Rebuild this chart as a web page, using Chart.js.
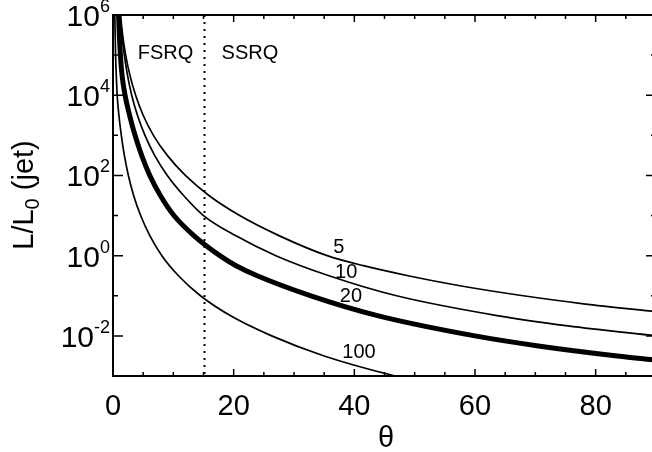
<!DOCTYPE html>
<html>
<head>
<meta charset="utf-8">
<script src="https://cdn.jsdelivr.net/npm/chart.js@4.4.1/dist/chart.umd.min.js"></script>
<style>
html,body{margin:0;padding:0;overflow:hidden;background:#fff;width:652px;height:452px}
#wrap{width:660px;height:452px}
canvas{display:block}
</style>
</head>
<body>
<div id="wrap"><canvas id="c" width="660" height="452"></canvas></div>
<script>
// Points: viewing angle theta (deg) where each curve reaches the given log10(L/L0)
const thetaG5   = [1.0, 1.25, 1.6, 2.1, 2.8, 3.75, 5.0, 6.7, 9.0, 12.0, 15.9, 21.0, 27.5, 35.5, 41.5, 48.9, 57.5, 68.0, 78.0, 90];
const logLG5    = [6.5, 6, 5.5, 5, 4.5, 4, 3.5, 3, 2.5, 2, 1.5, 1, 0.5, 0, -0.25, -0.5, -0.75, -1, -1.2, -1.4];

const thetaG10  = [0.95, 1.18, 1.48, 1.88, 2.4, 3.1, 4.05, 5.3, 6.9, 9.0, 11.7, 15.0, 20.3, 27.0, 35.8, 47.0, 63.9, 75.4, 90];
const logLG10   = [6.5, 6, 5.5, 5, 4.5, 4, 3.5, 3, 2.5, 2, 1.5, 1, 0.5, 0, -0.5, -1, -1.5, -1.75, -2];

const thetaG20  = [0.8, 0.92, 1.05, 1.23, 1.5, 2.0, 2.75, 3.65, 4.75, 6.1, 7.85, 10.1, 13.4, 17.7, 20.4, 23.9, 32.8, 44.0, 60.0, 70.5, 83.6, 90];
const logLG20   = [6.5, 6, 5.5, 5, 4.5, 4, 3.5, 3, 2.5, 2, 1.5, 1, 0.5, 0, -0.25, -0.5, -1, -1.5, -2, -2.25, -2.5, -2.6];

const thetaG100 = [0.25, 0.3, 0.36, 0.43, 0.545, 0.69, 0.98, 1.38, 1.88, 2.55, 3.42, 4.58, 6.1, 8.1, 10.85, 14.5, 19.5, 26.3, 35.0, 46.8, 53.0];
const logLG100  = [6.5, 6, 5.5, 5, 4.5, 4, 3.5, 3, 2.5, 2, 1.5, 1, 0.5, 0, -0.5, -1, -1.5, -2, -2.5, -3, -3.2];

const curveLabels = ['5', '10', '20', '100'];
const curveLabelTheta = [36.5, 36.8, 37.6, 38.0];
const curveLabelLog   = [0.06, -0.56, -1.16, -2.55];

const xMajorTicks = [0, 20, 40, 60, 80];
const xMinorStep = 5;
const yMajorExps = [6, 4, 2, 0, -2];
const yMinorExps = [5, 3, 1, -1];
const boundaryTheta = 15;
const regionLabels = ['FSRQ', 'SSRQ'];
const regionLabelTheta = [4.1, 18.0];
const regionLabelLog = 4.9;

function toPoints(th, logs) {
  return th.map((t, i) => ({x: t, y: Math.pow(10, logs[i])}));
}

const FONT = '"Liberation Sans", Arial, Helvetica, sans-serif';

const deco = {
  id: 'deco',
  beforeDatasetsDraw(chart) {
    const {ctx, chartArea: a, scales: {x}} = chart;
    const px = Math.round(x.getPixelForValue(boundaryTheta)) + 0.5;
    ctx.save();
    ctx.strokeStyle = '#000';
    ctx.lineWidth = 2;
    ctx.setLineDash([2, 5]);
    ctx.beginPath(); ctx.moveTo(px, a.top); ctx.lineTo(px, a.bottom); ctx.stroke();
    ctx.restore();
  },
  afterDatasetsDraw(chart) {
    const {ctx, chartArea: a, scales: {x, y}} = chart;
    ctx.save();
    ctx.strokeStyle = '#000';
    ctx.fillStyle = '#000';
    ctx.lineWidth = 2;
    ctx.strokeRect(a.left, a.top, a.right - a.left, a.bottom - a.top);
    ctx.lineWidth = 1.5;
    for (let t = 0; t <= 90; t += xMinorStep) {
      const px = x.getPixelForValue(t);
      const len = xMajorTicks.includes(t) ? 7 : 4;
      ctx.beginPath();
      ctx.moveTo(px, a.bottom); ctx.lineTo(px, a.bottom - len);
      ctx.moveTo(px, a.top); ctx.lineTo(px, a.top + len);
      ctx.stroke();
    }
    const yt = (e, len) => {
      const py = y.getPixelForValue(Math.pow(10, e));
      ctx.beginPath();
      ctx.moveTo(a.left, py); ctx.lineTo(a.left + len, py);
      ctx.moveTo(a.right, py); ctx.lineTo(a.right - len, py);
      ctx.stroke();
    };
    yMajorExps.forEach(e => yt(e, 10));
    yMinorExps.forEach(e => yt(e, 5));
    ctx.font = '29px ' + FONT;
    ctx.textAlign = 'center';
    ctx.textBaseline = 'alphabetic';
    xMajorTicks.forEach(t => ctx.fillText(String(t), x.getPixelForValue(t), 415));
    yMajorExps.forEach(e => {
      const py = y.getPixelForValue(Math.pow(10, e));
      ctx.font = '18px ' + FONT;
      ctx.textAlign = 'right';
      const expStr = String(e);
      ctx.fillText(expStr, 110, py - 3);
      const ew = ctx.measureText(expStr).width;
      ctx.font = '30px ' + FONT;
      ctx.fillText('10', 110 - ew, py + 11);
    });
    ctx.font = '29px ' + FONT;
    ctx.textAlign = 'center';
    ctx.fillText('\u03B8', 386, 447);
    ctx.save();
    ctx.translate(33, 195);
    ctx.rotate(-Math.PI / 2);
    ctx.textAlign = 'left';
    ctx.font = '29px ' + FONT;
    const w1 = ctx.measureText('L/L').width;
    const w3 = ctx.measureText(' (jet)').width;
    ctx.font = '20px ' + FONT;
    const w2 = ctx.measureText('0').width;
    const total = w1 + w2 + w3;
    const sx = -total / 2;
    ctx.font = '29px ' + FONT;
    ctx.fillText('L/L', sx, 0);
    ctx.font = '20px ' + FONT;
    ctx.fillText('0', sx + w1, 6);
    ctx.font = '29px ' + FONT;
    ctx.fillText(' (jet)', sx + w1 + w2, 0);
    ctx.restore();
    ctx.font = '20px ' + FONT;
    ctx.textAlign = 'left';
    regionLabels.forEach((s, i) => {
      ctx.fillText(s, x.getPixelForValue(regionLabelTheta[i]), y.getPixelForValue(Math.pow(10, regionLabelLog)));
    });
    curveLabels.forEach((s, i) => {
      ctx.fillText(s, x.getPixelForValue(curveLabelTheta[i]), y.getPixelForValue(Math.pow(10, curveLabelLog[i])));
    });
    ctx.restore();
  }
};

const mk = (th, logs, w) => ({
  data: toPoints(th, logs),
  borderColor: '#000',
  borderWidth: w,
  pointRadius: 0,
  fill: false,
  cubicInterpolationMode: 'monotone',
  clip: 0
});

new Chart(document.getElementById('c'), {
  type: 'line',
  data: {
    datasets: [
      mk(thetaG5, logLG5, 1.7),
      mk(thetaG10, logLG10, 1.7),
      mk(thetaG20, logLG20, 5),
      mk(thetaG100, logLG100, 1.7)
    ]
  },
  options: {
    responsive: false,
    animation: false,
    devicePixelRatio: 1,
    layout: {padding: {left: 113, top: 15, right: 4, bottom: 76}},
    plugins: {legend: {display: false}, tooltip: {enabled: false}},
    scales: {
      x: {type: 'linear', min: 0, max: 90, display: false},
      y: {type: 'logarithmic', min: 1e-3, max: 1e6, display: false}
    }
  },
  plugins: [deco]
});
</script>
</body>
</html>
